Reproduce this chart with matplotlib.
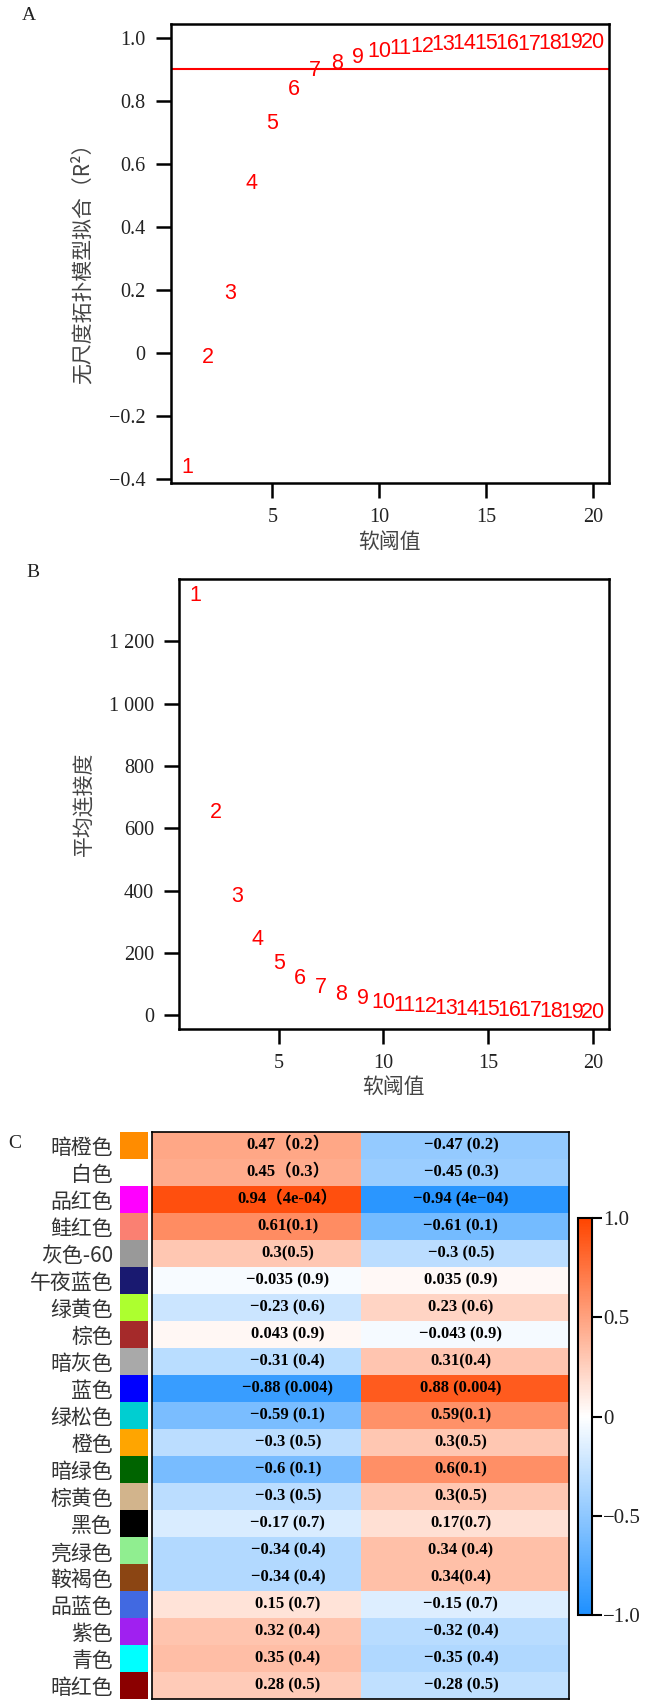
import numpy as np
import matplotlib
matplotlib.use('Agg')
import matplotlib.pyplot as plt
from matplotlib.colors import LinearSegmentedColormap, Normalize
from matplotlib.cm import ScalarMappable

plt.rcParams['font.family'] = ['Liberation Serif', 'Noto Sans CJK SC', 'DejaVu Sans']
plt.rcParams['axes.unicode_minus'] = True
cjk = ['Noto Sans CJK SC', 'DejaVu Sans']

# soft threshold data
powers = list(range(1, 21))
sft_r2 = [-0.362, -0.014, 0.188, 0.539, 0.729, 0.837, 0.896, 0.919, 0.938, 0.956,
          0.966, 0.972, 0.977, 0.980, 0.982, 0.982, 0.979, 0.982, 0.985, 0.985]
mean_k = [1346, 652, 381, 242, 167, 119, 90, 68, 55, 42,
          33, 28, 22, 19, 17, 15, 14, 12, 10, 10]
r2_cut = 0.9

# module-trait data
modules = ['暗橙色', '白色', '品红色', '鲑红色', '灰色-60', '午夜蓝色', '绿黄色', '棕色',
           '暗灰色', '蓝色', '绿松色', '橙色', '暗绿色', '棕黄色', '黑色', '亮绿色',
           '鞍褐色', '品蓝色', '紫色', '青色', '暗红色']
module_colors = ['#FF8C00', '#FFFFFF', '#FF00FF', '#FA8072', '#999999', '#191970',
                 '#ADFF2F', '#A52A2A', '#A9A9A9', '#0000FF', '#00CED1', '#FFA500',
                 '#006400', '#D2B48C', '#000000', '#90EE90', '#8B4513', '#4169E1',
                 '#A020F0', '#00FFFF', '#8B0000']
cor_1 = [0.47, 0.45, 0.94, 0.61, 0.3, -0.035, -0.23, 0.043, -0.31, -0.88, -0.59,
         -0.3, -0.6, -0.3, -0.17, -0.34, -0.34, 0.15, 0.32, 0.35, 0.28]
cor_2 = [-0.47, -0.45, -0.94, -0.61, -0.3, 0.035, 0.23, -0.043, 0.31, 0.88, 0.59,
         0.3, 0.6, 0.3, 0.17, 0.34, 0.34, -0.15, -0.32, -0.35, -0.28]
text_1 = ['0.47（0.2）', '0.45（0.3）', '0.94（4e-04）', '0.61(0.1)', '0.3(0.5)',
          '−0.035 (0.9)', '−0.23 (0.6)', '0.043 (0.9)', '−0.31 (0.4)', '−0.88 (0.004)',
          '−0.59 (0.1)', '−0.3 (0.5)', '−0.6 (0.1)', '−0.3 (0.5)', '−0.17 (0.7)',
          '−0.34 (0.4)', '−0.34 (0.4)', '0.15 (0.7)', '0.32 (0.4)', '0.35 (0.4)', '0.28 (0.5)']
text_2 = ['−0.47 (0.2)', '−0.45 (0.3)', '−0.94 (4e−04)', '−0.61 (0.1)', '−0.3 (0.5)',
          '0.035 (0.9)', '0.23 (0.6)', '−0.043 (0.9)', '0.31(0.4)', '0.88 (0.004)',
          '0.59(0.1)', '0.3(0.5)', '0.6(0.1)', '0.3(0.5)', '0.17(0.7)',
          '0.34 (0.4)', '0.34(0.4)', '−0.15 (0.7)', '−0.32 (0.4)', '−0.35 (0.4)', '−0.28 (0.5)']

W, H = 646, 1700
fig = plt.figure(figsize=(W / 100, H / 100), dpi=100)


def box(l, t, r, b):
    return [l / W, 1 - b / H, (r - l) / W, (b - t) / H]


def style_axes(ax):
    for s in ax.spines.values():
        s.set_linewidth(1.8)
    ax.tick_params(direction='out', length=11, width=1.8, pad=7,
                   labelsize=14.5, labelcolor='#222222')
    for lb in ax.get_xticklabels() + ax.get_yticklabels():
        lb.set_family('Liberation Serif')


tick_col = '#222222'
lab_col = '#444444'

# A
ax1 = fig.add_axes(box(170.7, 24, 609.3, 483.3))
ax1.axhline(r2_cut, color='red', lw=1.5)
for p, v in zip(powers, sft_r2):
    ax1.text(p, v, str(p), color='red', fontsize=15.5, family='Liberation Sans',
             ha='center', va='center')
ax1.set_xlim(0.24, 20.76)
ax1.set_ylim(-0.4127, 1.0434)
ax1.set_xticks([5, 10, 15, 20])
ax1.set_yticks([-0.4, -0.2, 0, 0.2, 0.4, 0.6, 0.8, 1.0])
ax1.set_yticklabels(['−0.4', '−0.2', '0', '0.2', '0.4', '0.6', '0.8', '1.0'])
style_axes(ax1)
ax1.text(0.5, -0.127, '软阈值', transform=ax1.transAxes, ha='center', va='center',
         fontsize=15, family=cjk, color=lab_col)
ax1.text(-0.2, 0.49, '无尺度拓扑模型拟合（R²）', transform=ax1.transAxes, rotation=90,
         ha='center', va='center', fontsize=15, family=cjk, color=lab_col)
fig.text(29 / W, 1 - 16 / H, 'A', fontsize=14, ha='center', va='center', color=tick_col)

# B
ax2 = fig.add_axes(box(179, 579.3, 608.7, 1029))
for p, v in zip(powers, mean_k):
    ax2.text(p, v, str(p), color='red', fontsize=15.5, family='Liberation Sans',
             ha='center', va='center')
ax2.set_xlim(0.24, 20.76)
ax2.set_ylim(-44, 1399)
ax2.set_xticks([5, 10, 15, 20])
ax2.set_yticks([0, 200, 400, 600, 800, 1000, 1200])
ax2.set_yticklabels(['0', '200', '400', '600', '800', '1 000', '1 200'])
style_axes(ax2)
ax2.text(0.5, -0.128, '软阈值', transform=ax2.transAxes, ha='center', va='center',
         fontsize=15, family=cjk, color=lab_col)
ax2.text(-0.22, 0.5, '平均连接度', transform=ax2.transAxes, rotation=90,
         ha='center', va='center', fontsize=15, family=cjk, color=lab_col)
fig.text(33 / W, 1 - 572.7 / H, 'B', fontsize=14, ha='center', va='center', color=tick_col)

# C
cmap = LinearSegmentedColormap.from_list('bwr_wgcna', ['#1E90FF', '#FFFFFF', '#FF4500'])
n = len(modules)
vals = np.array([cor_1, cor_2]).T

ax3 = fig.add_axes(box(152.3, 1132.3, 569.3, 1699.3))
ax3.pcolormesh(np.arange(3), np.arange(n + 1), vals, cmap=cmap, vmin=-1, vmax=1)
ax3.set_xlim(0, 2)
ax3.set_ylim(n, 0)
ax3.set_xticks([])
ax3.set_yticks([])
for s in ax3.spines.values():
    s.set_linewidth(1.2)
for i in range(n):
    ax3.text(0.65, i + 0.5, text_1[i], ha='center', va='center', fontsize=12,
             fontweight='bold', color='black')
    ax3.text(1.48, i + 0.5, text_2[i], ha='center', va='center', fontsize=12,
             fontweight='bold', color='black')

axs = fig.add_axes(box(120, 1132.3, 147.7, 1699.3))
axs.barh(np.arange(n) + 0.5, 1, height=1, color=module_colors)
axs.set_xlim(0, 1)
axs.set_ylim(n, 0)
axs.set_xticks([])
axs.set_yticks(np.arange(n) + 0.5)
axs.set_yticklabels(modules, family=cjk, fontsize=15, color='#333333')
axs.tick_params(length=0, pad=5)
for s in axs.spines.values():
    s.set_visible(False)
fig.text(14.4 / W, 1 - 1143 / H, 'C', fontsize=14, ha='center', va='center', color=tick_col)

cax = fig.add_axes(box(578, 1218, 592, 1615))
cb = fig.colorbar(ScalarMappable(norm=Normalize(-1, 1), cmap=cmap), cax=cax,
                  ticks=[-1, -0.5, 0, 0.5, 1])
cb.ax.set_yticklabels(['−1.0', '−0.5', '0', '0.5', '1.0'], family='Liberation Serif')
cb.outline.set_linewidth(1.5)
cb.ax.tick_params(length=7, width=1.5, pad=1, labelsize=15, labelcolor=tick_col)

fig.savefig('out.png', dpi=100)
